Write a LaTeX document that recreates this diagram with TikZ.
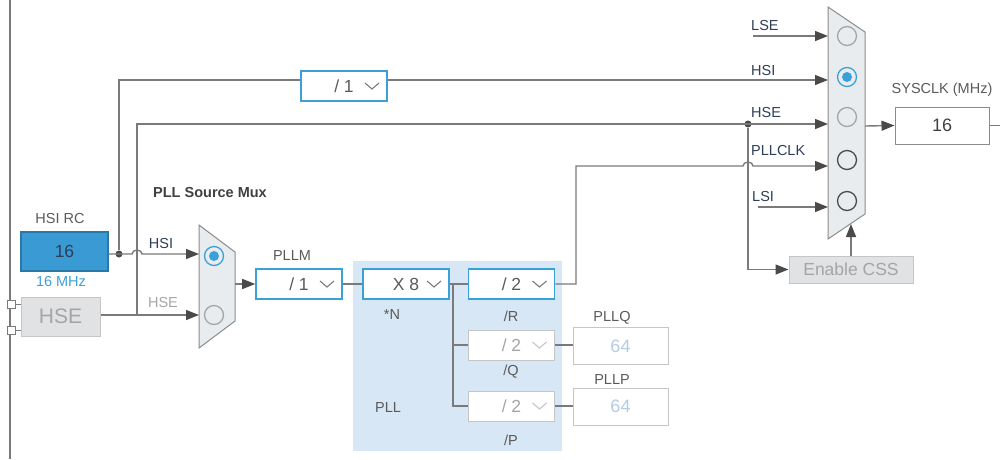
\documentclass[tikz,border=0pt]{standalone}
\usepackage{fontspec}
\setmainfont{Liberation Sans}
\usetikzlibrary{arrows.meta,positioning}

\definecolor{wirec}{HTML}{7A7A7A}
\definecolor{tipc}{HTML}{4A4A4A}
\definecolor{selblue}{HTML}{3AA0D8}
\definecolor{hsifill}{HTML}{3A9AD3}
\definecolor{hsiedge}{HTML}{2A78A8}
\definecolor{navy}{HTML}{2D3E58}
\definecolor{lblgrey}{HTML}{5A5A5A}
\definecolor{offgrey}{HTML}{A5A5A5}
\definecolor{muxfill}{HTML}{E9ECEF}
\definecolor{muxedge}{HTML}{8C8C8C}
\definecolor{pllbg}{HTML}{D7E7F5}
\definecolor{boxgrey}{HTML}{E0E2E4}
\definecolor{boxedge}{HTML}{C4C6C8}
\definecolor{valblue}{HTML}{B5CCE4}

\newcommand{\divlbl}[1]{\makebox[50pt]{#1}\hspace{28pt}}
\newcommand{\lblfont}{\fontsize{14.5}{16}\selectfont}
\newcommand{\boxfont}{\fontsize{17.5}{19}\selectfont}
\newcommand{\bigfont}{\fontsize{21}{23}\selectfont}

\tikzset{
  wire/.style={draw=wirec,line width=1.4pt},
  arr/.style={wire,-{Triangle[length=13pt,width=10pt,color=tipc]}},
  lbl/.style={font=\lblfont,text=lblgrey},
  nlbl/.style={font=\lblfont,text=navy,anchor=west,inner sep=0pt},
  chev/.style={path picture={\draw[#1,line width=1.1pt]
      ([xshift=-22pt,yshift=3pt]path picture bounding box.east)
      -- ++(7pt,-6pt) -- ++(7pt,6pt);}},
  divbox/.style={draw=selblue,line width=1.6pt,fill=white,minimum width=86pt,
      minimum height=30pt,inner xsep=4pt,font=\boxfont,text=lblgrey,chev=wirec},
  offbox/.style={divbox,draw=boxedge,line width=1pt,text=offgrey,chev=boxedge},
  valbox/.style={draw=boxedge,line width=1pt,fill=white,minimum width=95pt,
      minimum height=37pt,font=\fontsize{18}{20}\selectfont,text=valblue},
  greybox/.style={draw=boxedge,line width=1pt,fill=boxgrey,text=offgrey},
  muxshape/.style={draw=muxedge,line width=1pt,fill=muxfill},
  radio/.style={circle,draw,line width=1.3pt,minimum size=19pt,inner sep=0pt},
  radiooff/.style={radio,draw=offgrey},
  radiodark/.style={radio,draw=tipc},
  radioon/.style={radio,draw=selblue,path picture={
      \fill[selblue] (path picture bounding box.center) circle (5pt);}},
  dot/.style={circle,fill=tipc,inner sep=0pt,minimum size=7pt},
  pin/.style={draw=wirec,line width=1pt,fill=white,minimum size=8pt,inner sep=0pt}
}

\begin{document}
\begin{tikzpicture}[x=1pt,y=-1pt]
\useasboundingbox (0,0) rectangle (1000,459);

% PLL block
\node[fill=pllbg,minimum width=209pt,minimum height=190pt] (pll) at (457.5,356) {};
\node[lbl] at (388,408) {PLL};

% left rail
\draw[wire] (10,0) -- (10,459);

% oscillators
\node[draw=hsiedge,line width=1.2pt,fill=hsifill,minimum width=87pt,minimum height=39pt,
  font=\boxfont,text=navy] (hsi) at (64.5,251.5) {16};
\node[lbl] at (60,218) {HSI RC};
\node[lbl,text=selblue] at (61,281) {16 MHz};
\node[greybox,minimum width=79pt,minimum height=39pt,font=\bigfont] (hse) at (60.5,316.5) {HSE};
\node[pin] (pina) at (11,304) {};
\node[pin] (pinb) at (11,330) {};
\draw[wire,line width=1pt] (pina) -- (pina -| hse.west);
\draw[wire,line width=1pt] (pinb) -- (pinb -| hse.west);

% PLL source mux
\draw[muxshape] (199,225) -- (235,252) -- (235,321) -- (199,348) -- cycle;
\node[radioon] (m1hsi) at (214,256) {};
\node[radiooff] (m1hse) at (214,315) {};
\node[lbl,font=\fontsize{14.5}{16}\selectfont\bfseries,text=darkgray] at (210,193) {PLL Source Mux};
\coordinate (m1a) at (199,254);
\coordinate (m1b) at (199,315);
\coordinate (m1out) at (235,284);
\node[nlbl,anchor=center] at (161,243) {HSI};
\node[nlbl,anchor=center,text=offgrey] at (163,302) {HSE};

% HSI / HSE wires
\node[dot] (j1) at (119,254) {};
\draw[arr] (hsi.east |- j1) -- (132,254)
  arc[start angle=180,end angle=0,x radius=5pt,y radius=4pt] -- (m1a);
\draw[arr] (hse.east |- m1b) -- (m1b);
\coordinate (j2) at (137,315);

% system clock mux
\draw[muxshape] (828,7) -- (865,32) -- (865,214) -- (828,239) -- cycle;
\node[radiooff] (rlse) at (847,36) {};
\node[radioon] (rhsi) at (847,77) {};
\node[radiooff] (rhse) at (847,117) {};
\node[radiodark] (rpll) at (847,160) {};
\node[radiodark] (rlsi) at (847,201) {};
\coordinate (s1) at (828,36);
\coordinate (s2) at (828,80);
\coordinate (s3) at (828,124);
\coordinate (s4) at (828,166);
\coordinate (s5) at (828,207);
\coordinate (m2out) at (865,126);
\node[nlbl] at (751,26) {LSE};
\node[nlbl] at (751,71) {HSI};
\node[nlbl] at (751,113) {HSE};
\node[nlbl] at (751,151) {PLLCLK};
\node[nlbl] at (752,197) {LSI};
\draw[arr] (753,36) -- (s1);
\draw[arr] (758,207) -- (s5);

% HSI through /1
\node[divbox] (div1) at (344,86) {\divlbl{/ 1}};
\draw[wire] (j1) |- ([yshift=6pt]div1.west);
\draw[arr] ([yshift=6pt]div1.east) -- (s2);

% HSE up to the mux and to CSS
\node[dot] (j3) at (748,124) {};
\draw[arr] (j2) |- (s3);
\node[greybox,minimum width=124pt,minimum height=27pt,font=\fontsize{17.5}{19}\selectfont]
  (css) at (851,269.5) {Enable CSS};
\draw[arr] (j3) |- (css.west);
\draw[arr] (css.north) -- (851,224);

% SYSCLK
\node[draw=muxedge,line width=1pt,minimum width=94pt,minimum height=37pt,
  font=\fontsize{18}{20}\selectfont,text=darkgray] (sys) at (942,125.5) {16};
\node[lbl] at (942,90) {SYSCLK (MHz)};
\draw[arr] (m2out) -- (sys.west);
\draw[wire] (sys.east) -- (1000,125.5);

% PLL dividers
\node[divbox] (pllm) at (299,284) {\divlbl{/ 1}};
\node[lbl] at (292,256) {PLLM};
\node[divbox] (muln) at (406,284) {\divlbl{X 8}};
\node[lbl] at (392,315) {*N};
\node[divbox] (divr) at (511.5,284) {\divlbl{/ 2}};
\node[lbl] at (511,316) {/R};
\node[offbox] (divq) at (511.5,345) {\divlbl{/ 2}};
\node[lbl] at (511,372) {/Q};
\node[offbox] (divp) at (511.5,406) {\divlbl{/ 2}};
\node[lbl] at (511,440) {/P};
\node[valbox] (pllq) at (620.5,346) {64};
\node[lbl] at (612,318) {PLLQ};
\node[valbox] (pllp) at (620.5,406.5) {64};
\node[lbl] at (612,380) {PLLP};

\draw[arr] (m1out) -- (pllm.west);
\draw[wire] (pllm) -- (muln);
\draw[wire] (muln) -- (divr);
\coordinate (br) at (453,284);
\draw[wire] (br) |- (divp.west);
\draw[wire] (br |- divq.west) -- (divq.west);
\draw[wire] (divq.east) -- (divq.east -| pllq.west);
\draw[wire] (divp.east) -- (divp.east -| pllp.west);
\draw[arr] (divr.east) -| (576,166) -- (743,166)
  arc[start angle=180,end angle=0,x radius=5pt,y radius=4pt] -- (s4);
\end{tikzpicture}
\end{document}
